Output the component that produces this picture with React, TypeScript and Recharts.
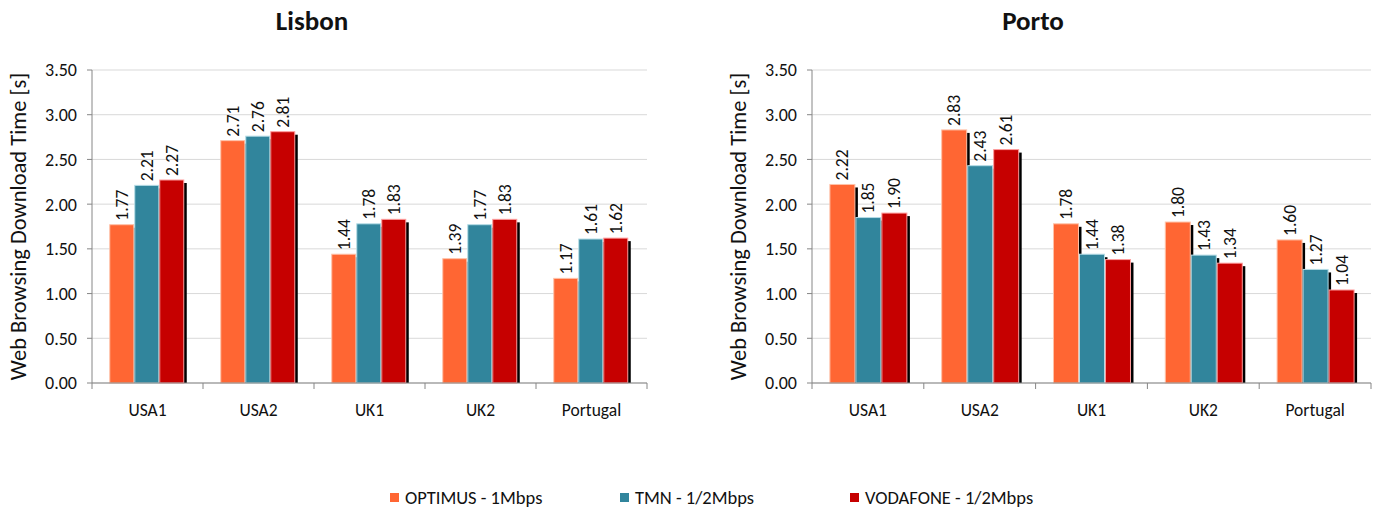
import React from 'react';
import { BarChart, Bar, XAxis, YAxis, CartesianGrid, LabelList } from 'recharts';

// Categories (server locations) and axis ticks
const categories = ['USA1', 'USA2', 'UK1', 'UK2', 'Portugal'];
const yTicks = [0, 0.5, 1, 1.5, 2, 2.5, 3, 3.5];

// Operators
const seriesNames = ['OPTIMUS - 1Mbps', 'TMN - 1/2Mbps', 'VODAFONE - 1/2Mbps'];
const seriesKeys = ['optimus', 'tmn', 'vodafone'];
const seriesColors = ['#FF6633', '#31859C', '#C60000'];
const seriesEdges = ['#FFC2A8', '#B5DCE6', '#FF9C9C'];

// Lisbon download times [s]
const lisbonOptimus = [1.77, 2.71, 1.44, 1.39, 1.17];
const lisbonTmn = [2.21, 2.76, 1.78, 1.77, 1.61];
const lisbonVodafone = [2.27, 2.81, 1.83, 1.83, 1.62];

// Porto download times [s]
const portoOptimus = [2.22, 2.83, 1.78, 1.8, 1.6];
const portoTmn = [1.85, 2.43, 1.44, 1.43, 1.27];
const portoVodafone = [1.9, 2.61, 1.38, 1.34, 1.04];

const FONT = 'Carlito, Lato, "Liberation Sans", sans-serif';

const buildRows = (a: number[], b: number[], c: number[]) =>
  categories.map((name, i) => ({ name, optimus: a[i], tmn: b[i], vodafone: c[i] }));

const lisbonRows = buildRows(lisbonOptimus, lisbonTmn, lisbonVodafone);
const portoRows = buildRows(portoOptimus, portoTmn, portoVodafone);

// Bar with a dark drop shadow to its lower right and a light edge
const makeShadowBar = (edge: string) => (props: any) => {
  const { x, y, width, height, fill } = props;
  if (!height || height <= 0) return <g />;
  const off = 3;
  return (
    <g>
      <rect x={x + off} y={y + off} width={width} height={Math.max(0, height - off)} fill="#000" />
      <rect x={x} y={y} width={width} height={height} fill={fill} stroke={edge} strokeWidth={1} />
    </g>
  );
};

const renderValue = (props: any) => {
  const { x, y, width, value } = props;
  const cx = x + width / 2;
  const ty = y - 4;
  return (
    <text
      x={cx}
      y={ty}
      transform={`rotate(-90 ${cx} ${ty})`}
      textAnchor="start"
      dominantBaseline="central"
      fontSize={17.5}
      fontFamily={FONT}
      fill="#111"
    >
      {Number(value).toFixed(2)}
    </text>
  );
};

const CategoryTick = (props: any) => {
  const { x, y, payload, index, visibleTicksCount } = props;
  const half = payload && payload.offset ? payload.offset : 55;
  const last = index === (visibleTicksCount ?? categories.length) - 1;
  return (
    <g>
      <line x1={x - half} x2={x - half} y1={y} y2={y + 6} stroke="#868686" strokeWidth={1} />
      {last && <line x1={x + half} x2={x + half} y1={y} y2={y + 6} stroke="#868686" strokeWidth={1} />}
      <text x={x} y={y + 33} textAnchor="middle" fontSize={17.5} fontFamily={FONT} fill="#111">
        {payload.value}
      </text>
    </g>
  );
};

const yLabel = (props: any) => {
  const vb = props.viewBox || {};
  const cx = (vb.x ?? 30) - 12;
  const cy = (vb.y ?? 70) + (vb.height ?? 313) / 2;
  return (
    <text
      x={cx}
      y={cy}
      transform={`rotate(-90 ${cx} ${cy})`}
      textAnchor="middle"
      dominantBaseline="central"
      fontSize={22.5}
      fontFamily={FONT}
      fill="#111"
    >
      Web Browsing Download Time [s]
    </text>
  );
};

const CityChart = ({ rows, width, marginRight }: { rows: any[]; width: number; marginRight: number }) => (
  <BarChart
    width={width}
    height={440}
    data={rows}
    margin={{ top: 70, right: marginRight, bottom: 17, left: 30 }}
    barCategoryGap="16%"
    barGap={1}
  >
    <CartesianGrid vertical={false} stroke="#D9D9D9" strokeWidth={1} />
    <XAxis
      dataKey="name"
      height={40}
      axisLine={{ stroke: '#868686' }}
      tickLine={false}
      tickSize={0}
      tickMargin={0}
      tick={<CategoryTick />}
      interval={0}
    />
    <YAxis
      width={62}
      domain={[0, 3.5]}
      ticks={yTicks}
      interval={0}
      tickFormatter={(v: number) => v.toFixed(2)}
      axisLine={{ stroke: '#868686' }}
      tickLine={{ stroke: '#868686' }}
      tickSize={5}
      tickMargin={10}
      tick={{ fontSize: 18, fontFamily: FONT, fill: '#111' }}
      label={{ content: yLabel }}
    />
    {seriesKeys.map((k, i) => (
      <Bar
        key={k}
        dataKey={k}
        name={seriesNames[i]}
        fill={seriesColors[i]}
        isAnimationActive={false}
        shape={makeShadowBar(seriesEdges[i])}
      >
        <LabelList dataKey={k} content={renderValue} />
      </Bar>
    ))}
  </BarChart>
);

const Title = ({ text, center }: { text: string; center: number }) => (
  <div
    style={{
      position: 'absolute',
      left: center - 100,
      width: 200,
      top: 5,
      textAlign: 'center',
      fontFamily: FONT,
      fontWeight: 700,
      fontSize: 27,
      lineHeight: '32px',
      color: '#111',
    }}
  >
    {text}
  </div>
);

export default function App() {
  return (
    <div
      style={{
        position: 'absolute',
        left: 0,
        top: 0,
        width: 1378,
        height: 513,
        background: '#fff',
        overflow: 'hidden',
      }}
    >
      <Title text="Lisbon" center={312} />
      <Title text="Porto" center={1033} />
      <div style={{ position: 'absolute', left: 0, top: 0 }}>
        <CityChart rows={lisbonRows} width={660} marginRight={13} />
      </div>
      <div style={{ position: 'absolute', left: 720, top: 0 }}>
        <CityChart rows={portoRows} width={658} marginRight={7} />
      </div>
      <div style={{ position: 'absolute', left: 390, top: 485, display: 'flex' }}>
        {seriesNames.map((n, i) => (
          <div key={n} style={{ width: 230, display: 'flex', alignItems: 'center', height: 24 }}>
            <span
              style={{
                display: 'inline-block',
                width: 9,
                height: 9,
                background: seriesColors[i],
                marginRight: 6,
              }}
            />
            <span style={{ fontFamily: FONT, fontSize: 18.5, color: '#111' }}>{n}</span>
          </div>
        ))}
      </div>
    </div>
  );
}
